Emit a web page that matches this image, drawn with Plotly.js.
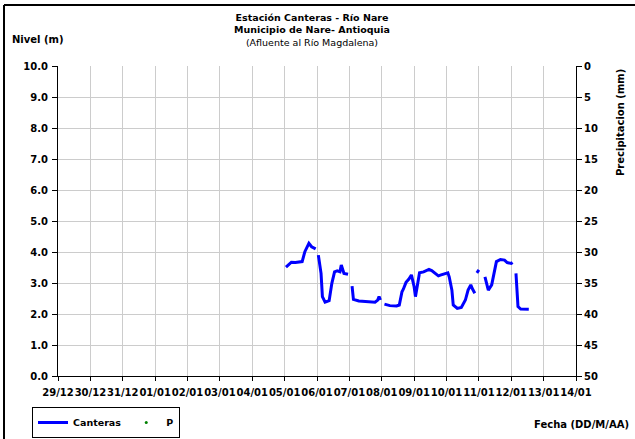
<!DOCTYPE html>
<html>
<head>
<meta charset="utf-8">
<script src="https://cdn.plot.ly/plotly-3.0.1.min.js"></script>
<style>html,body{margin:0;padding:0;background:#fff;}#chart{width:635px;height:439px;}</style>
</head>
<body>
<div id="chart"></div>
<script>
// Tick dates and labels (x axis)
var tickDates = ['2000-12-29','2000-12-30','2000-12-31','2001-01-01','2001-01-02','2001-01-03','2001-01-04','2001-01-05','2001-01-06','2001-01-07','2001-01-08','2001-01-09','2001-01-10','2001-01-11','2001-01-12','2001-01-13','2001-01-14'];
var tickLabels = ['29/12','30/12','31/12','01/01','02/01','03/01','04/01','05/01','06/01','07/01','08/01','09/01','10/01','11/01','12/01','13/01','14/01'];

// Canteras level series (m); null = gap in record
var canterasDates = [
 '2001-01-05 01:00','2001-01-05 05:00','2001-01-05 08:00','2001-01-05 13:00','2001-01-05 15:00','2001-01-05 18:00','2001-01-05 20:00','2001-01-05 23:00',
 '2001-01-06 00:00',
 '2001-01-06 01:00','2001-01-06 03:00','2001-01-06 04:00','2001-01-06 06:00','2001-01-06 09:00','2001-01-06 11:00','2001-01-06 13:00','2001-01-06 15:00','2001-01-06 17:00','2001-01-06 18:00','2001-01-06 20:00','2001-01-06 23:00',
 '2001-01-07 00:30',
 '2001-01-07 02:00','2001-01-07 03:00','2001-01-07 07:00','2001-01-07 12:00','2001-01-07 15:00','2001-01-07 19:00','2001-01-07 21:00','2001-01-07 22:00','2001-01-07 23:00',
 '2001-01-08 01:00',
 '2001-01-08 02:00','2001-01-08 06:00','2001-01-08 11:00','2001-01-08 13:00','2001-01-08 15:00','2001-01-08 16:00','2001-01-08 18:00','2001-01-08 19:00','2001-01-08 20:00','2001-01-08 22:00',
 '2001-01-09 00:00','2001-01-09 01:00','2001-01-09 03:00','2001-01-09 04:00','2001-01-09 07:00','2001-01-09 09:00','2001-01-09 11:00','2001-01-09 13:00','2001-01-09 15:00','2001-01-09 18:00','2001-01-09 20:00','2001-01-09 23:00',
 '2001-01-10 01:00','2001-01-10 02:00','2001-01-10 04:00','2001-01-10 05:00','2001-01-10 08:00','2001-01-10 11:00','2001-01-10 14:00','2001-01-10 16:00','2001-01-10 18:00','2001-01-10 19:00','2001-01-10 21:00',
 '2001-01-10 22:00',
 '2001-01-10 22:30','2001-01-11 00:00',
 '2001-01-11 02:00',
 '2001-01-11 04:30','2001-01-11 07:00','2001-01-11 09:30','2001-01-11 11:00','2001-01-11 13:00','2001-01-11 16:00','2001-01-11 19:00','2001-01-11 21:00','2001-01-12 00:00','2001-01-12 01:00',
 '2001-01-12 02:00',
 '2001-01-12 03:30','2001-01-12 05:00','2001-01-12 07:00','2001-01-12 10:00','2001-01-12 13:00'
];
var canterasLevels = [
 3.51,3.67,3.66,3.69,4.01,4.28,4.17,4.10,
 null,
 3.90,3.31,2.56,2.38,2.43,2.99,3.36,3.39,3.36,3.58,3.31,3.28,
 null,
 2.90,2.47,2.42,2.40,2.40,2.38,2.45,2.56,2.45,
 null,
 2.32,2.27,2.26,2.29,2.72,2.80,3.02,3.07,3.12,3.26,
 2.88,2.56,3.10,3.33,3.36,3.39,3.44,3.40,3.33,3.23,3.26,3.29,
 3.33,3.20,2.77,2.29,2.18,2.21,2.45,2.77,2.94,2.83,2.67,
 null,
 3.33,3.42,
 null,
 3.20,2.77,2.94,3.26,3.69,3.76,3.74,3.66,3.63,3.66,
 null,
 3.31,2.24,2.16,2.16,2.15
];

// Precipitation series P (mm): no recorded values in the period
var pDates = ['2001-01-05','2001-01-06','2001-01-07','2001-01-08','2001-01-09','2001-01-10','2001-01-11','2001-01-12'];
var pValues = [null,null,null,null,null,null,null,null];

var FONT = 'DejaVu Sans, Liberation Sans, Arial, sans-serif';

var traces = [
  {x: canterasDates, y: canterasLevels, name: '<b>Canteras</b>', type: 'scatter', mode: 'lines',
   line: {color: '#0000FF', width: 3}, connectgaps: false, yaxis: 'y'},
  {x: pDates, y: pValues, name: '<b>P</b>', type: 'scatter', mode: 'markers',
   marker: {color: '#008000', size: 3}, yaxis: 'y2'}
];

// paper helpers: plot area l=58..576, t=66..376
var L = 58, R = 576, T = 66, B = 376;
function px(x){ return (x - L) / (R - L); }
function py(y){ return (B - y) / (B - T); }

var layout = {
  width: 635, height: 439,
  margin: {l: L, r: 635 - R, t: T, b: 439 - B, pad: 0, autoexpand: false},
  paper_bgcolor: '#fff', plot_bgcolor: '#fff',
  font: {family: FONT, size: 10, color: '#000'},
  showlegend: true,
  legend: {orientation: 'h', x: px(32), y: py(438), xanchor: 'left', yanchor: 'bottom',
           bordercolor: '#000', borderwidth: 1, font: {size: 9.5, family: FONT},
           bgcolor: '#fff', itemwidth: 30, tracegroupgap: 0},
  xaxis: {type: 'date', range: [tickDates[0], tickDates[tickDates.length-1]],
          tickmode: 'array', tickvals: tickDates, ticktext: tickLabels.map(function(s){return '<b>'+s+'</b>';}),
          tickangle: 0, showgrid: true, gridcolor: '#CCCCCC', gridwidth: 1,
          showline: true, linecolor: '#000', linewidth: 1, ticks: 'outside', ticklen: 4, tickcolor: '#000',
          ticklabelstandoff: 3,
          tickfont: {size: 10, family: FONT}, zeroline: false, fixedrange: true},
  yaxis: {range: [0, 10], dtick: 1, tickformat: '.1f', showgrid: true, gridcolor: '#CCCCCC', gridwidth: 1,
          showline: true, linecolor: '#000', linewidth: 1, ticks: 'outside', ticklen: 5, tickcolor: '#000',
          ticklabelstandoff: 2,
          tickfont: {size: 10, family: FONT}, zeroline: false, tickprefix: '<b>', ticksuffix: '</b>'},
  yaxis2: {overlaying: 'y', side: 'right', range: [50, 0], dtick: 5, showgrid: false,
           showline: true, linecolor: '#000', linewidth: 1, ticks: 'outside', ticklen: 5, tickcolor: '#000',
           tickfont: {size: 10, family: FONT}, zeroline: false, tickprefix: '<b>', ticksuffix: '</b>'},
  annotations: [
    {text: '<b>Estación Canteras - Río Nare</b><br><b>Municipio de Nare- Antioquia</b><br>(Afluente al Río Magdalena)',
     xref: 'paper', yref: 'paper', x: px(312), y: py(30), showarrow: false, font: {size: 9.5}, xanchor: 'center', yanchor: 'middle', align: 'center'},
    {text: '<b>Nivel (m)</b>', xref: 'paper', yref: 'paper', x: px(10), y: py(40), showarrow: false, font: {size: 10}, xanchor: 'left', yanchor: 'middle'},
    {text: '<b>Precipitacion (mm)</b>', xref: 'paper', yref: 'paper', x: px(620), y: py(123), showarrow: false, textangle: -90, font: {size: 10}, xanchor: 'center', yanchor: 'middle'},
    {text: '<b>Fecha (DD/M/AA)</b>', xref: 'paper', yref: 'paper', x: px(631), y: py(424), showarrow: false, font: {size: 10}, xanchor: 'right', yanchor: 'middle'}
  ],
  shapes: [
    {type: 'line', xref: 'paper', yref: 'paper', x0: px(4), x1: px(640), y0: py(5), y1: py(5), line: {color: '#000', width: 2}},
    {type: 'line', xref: 'paper', yref: 'paper', x0: px(4), x1: px(4), y0: py(5), y1: py(445), line: {color: '#000', width: 2}}
  ]
};

Plotly.newPlot('chart', traces, layout, {staticPlot: true, displayModeBar: false});
</script>
</body>
</html>
